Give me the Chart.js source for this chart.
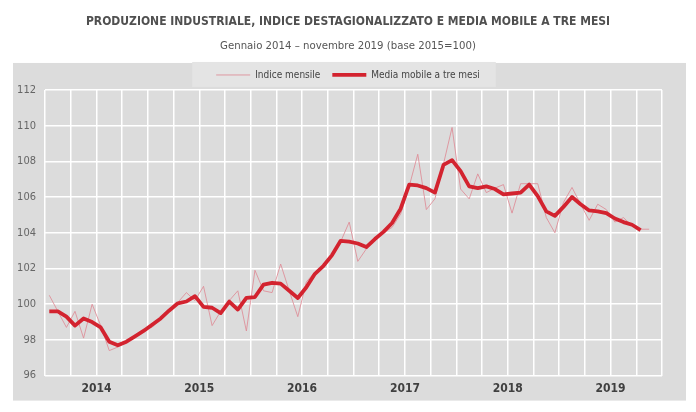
<!DOCTYPE html>
<html>
<head>
<meta charset="utf-8">
<script src="https://cdn.jsdelivr.net/npm/chart.js@4"></script>
<style>
  html, body { margin: 0; padding: 0; background: #fff; }
  #wrap { width: 696px; height: 412px; }
</style>
</head>
<body>
<div id="wrap"><canvas id="prodChart" width="696" height="412"></canvas></div>
<script>
// Produzione industriale, gennaio 2014 - novembre 2019 (base 2015=100)
const years = ["2014", "2015", "2016", "2017", "2018", "2019"];

// indice mensile destagionalizzato, gen 2014 - nov 2019
const indiceMensile = [
  100.5, 99.6, 98.7, 99.6, 98.1, 100.0, 98.8, 97.4, 97.6, 97.9, 98.2, 98.6,
  98.7, 99.2, 99.6, 100.1, 100.65, 100.2, 101.0, 98.8, 99.6, 100.2, 100.75, 98.5,
  101.9, 100.75, 100.65, 102.25, 100.75, 99.3, 101.25, 101.8, 102.1, 102.7, 103.5, 104.6,
  102.4, 103.1, 103.75, 104.0, 104.3, 105.05, 106.6, 108.4, 105.3, 105.9, 107.85, 109.9,
  106.45, 105.9, 107.3, 106.25, 106.5, 106.7, 105.1, 106.75, 106.75, 106.75, 104.85, 104.0,
  105.7, 106.54, 105.6, 104.7, 105.6, 105.3, 104.6, 104.85, 104.4, 104.2, 104.2
];

// media mobile a tre mesi, gen 2014 - ott 2019
const mediaMobile = [
  99.6, 99.6, 99.3, 98.8, 99.2, 99.0, 98.7, 97.9, 97.7, 97.9, 98.2, 98.5,
  98.85, 99.2, 99.65, 100.05, 100.15, 100.45, 99.85, 99.8, 99.5, 100.15, 99.7, 100.35,
  100.4, 101.1, 101.2, 101.15, 100.75, 100.35, 100.95, 101.7, 102.15, 102.75, 103.55, 103.5,
  103.4, 103.2, 103.65, 104.05, 104.55, 105.35, 106.7, 106.65, 106.5, 106.25, 107.8, 108.07,
  107.45, 106.6, 106.5, 106.6, 106.45, 106.15, 106.2, 106.25, 106.7, 106.05, 105.2, 104.95,
  105.45, 106.0, 105.6, 105.25, 105.2, 105.1, 104.8, 104.6, 104.45, 104.15
];

const yTicks = [96, 98, 100, 102, 104, 106, 108, 110, 112];

// months are placed at the centre of their slot on a 0..72 month axis
function toPoints(values) {
  return values.map((v, i) => ({ x: i + 0.5, y: v }));
}

const NARROW = "'Liberation Sans Narrow', 'Arial Narrow', 'DejaVu Sans Condensed', sans-serif";

// width of the widest y label, so the mirrored labels can sit left of the plot
const measure = document.createElement("canvas").getContext("2d");
measure.font = "11px " + NARROW;
const widestY = Math.max(...yTicks.map(v => measure.measureText(String(v)).width));

// grey panel behind the plot and lighter box behind the legend
const panelPlugin = {
  id: "panel",
  beforeDraw(chart) {
    const ctx = chart.ctx;
    const ca = chart.chartArea;
    ctx.save();
    ctx.fillStyle = "#dcdcdc";
    ctx.fillRect(ca.left - 32, ca.top - 27, (ca.right + 24) - (ca.left - 32), (ca.bottom + 25) - (ca.top - 27));
    const boxes = chart.legend.legendHitBoxes || [];
    if (boxes.length) {
      const l = Math.min(...boxes.map(b => b.left)) - 24;
      const r = Math.max(...boxes.map(b => b.left + b.width)) + 16;
      ctx.fillStyle = "#e4e4e4";
      ctx.fillRect(l, ca.top - 28, r - l, 25);
    }
    ctx.restore();
  }
};

const ctx = document.getElementById("prodChart").getContext("2d");

const prodChart = new Chart(ctx, {
  type: "line",
  data: {
    datasets: [
      {
        label: "Indice mensile",
        data: toPoints(indiceMensile),
        borderColor: "rgba(222, 140, 150, 0.85)",
        borderWidth: 1,
        pointRadius: 0,
        tension: 0,
        order: 2
      },
      {
        label: "Media mobile a tre mesi",
        data: toPoints(mediaMobile),
        borderColor: "#d3232f",
        borderWidth: 3.8,
        pointRadius: 0,
        tension: 0,
        borderJoinStyle: "round",
        order: 1
      }
    ]
  },
  options: {
    responsive: false,
    animation: false,
    layout: {
      padding: { top: 15, left: 34, right: 34, bottom: 10 }
    },
    scales: {
      x: {
        type: "linear",
        min: 0,
        max: 72,
        afterBuildTicks(scale) {
          const t = [];
          for (let v = 0; v <= 72; v += 3) t.push({ value: v });
          scale.ticks = t;
        },
        grid: { color: "#ffffff", lineWidth: 1.5, drawTicks: false },
        border: { display: false },
        ticks: {
          autoSkip: false,
          maxRotation: 0,
          padding: 6,
          color: "#404040",
          font: { family: NARROW, size: 12, weight: "bold" },
          callback: function (value) {
            if (value % 12 === 6) return years[(value - 6) / 12];
            return "";
          }
        }
      },
      y: {
        min: 96,
        max: 112,
        afterBuildTicks(scale) {
          scale.ticks = yTicks.map(v => ({ value: v }));
        },
        afterFit(scale) {
          scale.width = 11;
        },
        grid: { color: "#ffffff", lineWidth: 1.5, drawTicks: false },
        border: { display: false },
        ticks: {
          mirror: true,
          crossAlign: "far",
          padding: -(9 + widestY),
          color: "#666666",
          font: { family: NARROW, size: 11 }
        }
      }
    },
    plugins: {
      title: {
        display: true,
        text: "PRODUZIONE INDUSTRIALE, INDICE DESTAGIONALIZZATO E MEDIA MOBILE A TRE MESI",
        color: "#505050",
        font: { family: NARROW, size: 12, weight: "bold" },
        padding: { top: 0, bottom: 10 }
      },
      subtitle: {
        display: true,
        text: "Gennaio 2014 \u2013 novembre 2019 (base 2015=100)",
        color: "#555555",
        font: { family: NARROW, size: 11.3 },
        padding: { top: 0, bottom: 5 }
      },
      legend: {
        display: true,
        position: "top",
        labels: {
          usePointStyle: true,
          pointStyle: "line",
          pointStyleWidth: 34,
          boxHeight: 8,
          padding: 12,
          color: "#444444",
          font: { family: NARROW, size: 10 },
          sort: (a, b) => a.datasetIndex - b.datasetIndex
        }
      },
      tooltip: { enabled: false }
    }
  },
  plugins: [panelPlugin]
});
</script>
</body>
</html>
